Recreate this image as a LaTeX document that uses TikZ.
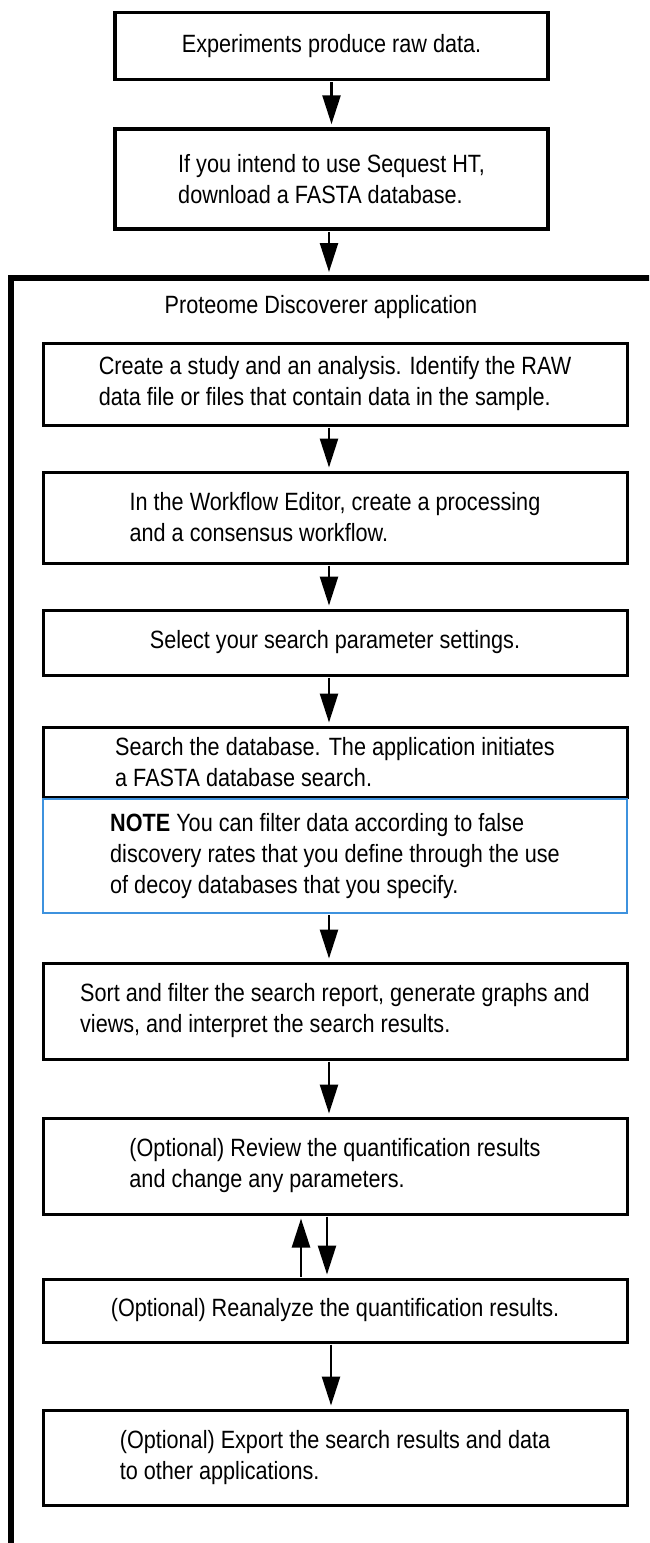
\documentclass[tikz,border=0pt]{standalone}
\usepackage{fontspec}
\setmainfont{Liberation Sans}[FakeStretch=0.865]
\usetikzlibrary{arrows.meta}
\definecolor{noteblue}{RGB}{62,146,222}
\newcommand\flowfont{\fontsize{25pt}{31pt}\selectfont}
\tikzset{every node/.style={font=\flowfont, inner sep=0pt, align=left},
  stepbox/.style={draw, line width=3pt, minimum width=584pt},
  topbox/.style={draw, line width=3.5pt, minimum width=433pt},
  notebox/.style={draw=noteblue, line width=2pt, minimum width=584pt},
  flow/.style={line width=2.5pt, -{Triangle[length=29pt,width=18pt]}, shorten >=3pt, shorten <=1pt}}

\begin{document}
\begin{tikzpicture}[x=1pt,y=-1pt]
   \useasboundingbox (0,0) rectangle (649,1543);
   \clip (0,0) rectangle (649,1543);
   % outside the application
   \node[topbox, minimum height=67pt]  (raw)   at (331.5,46)  {Experiments produce raw data.};
   \node[topbox, minimum height=100pt] (fasta) at (331.5,179) {If you intend to use Sequest HT,\\download a FASTA database.};
   % application frame
   \coordinate (ftop) at (329,275);
   \draw[line width=6.5pt] (11,1550) -- (11,278) -- (660,278);
   \node (app) at (321,307) {Proteome Discoverer application};
   % steps inside the application
   \node[stepbox, minimum height=82pt] (study)    at (335,384)    {Create a study and an analysis. Identify the RAW\\data file or files that contain data in the sample.};
   \node[stepbox, minimum height=91pt] (workflow) at (335,517.5)  {In the Workflow Editor, create a processing\\and a consensus workflow.};
   \node[stepbox, minimum height=65pt] (params)   at (335,642.5)  {Select your search parameter settings.};
   \node[stepbox, minimum height=70pt] (search)   at (335,762)    {Search the database. The application initiates\\a FASTA database search.};
   \node[notebox, minimum height=114pt] (note)    at (335,856)    {\textbf{NOTE} You can filter data according to false\\discovery rates that you define through the use\\of decoy databases that you specify.};
   \node[stepbox, minimum height=96pt] (sort)     at (335,1011)   {Sort and filter the search report, generate graphs and\\views, and interpret the search results.};
   \node[stepbox, minimum height=96pt] (review)   at (335,1166)   {(Optional) Review the quantification results\\and change any parameters.};
   \node[stepbox, minimum height=63pt] (reanal)   at (335,1310.5) {(Optional) Reanalyze the quantification results.};
   \node[stepbox, minimum height=95pt] (export)   at (335,1457.5) {(Optional) Export the search results and data\\to other applications.};
   % connectors
   \draw[flow] (raw) -- (fasta);
   \draw[flow] (fasta.south -| ftop) -- (ftop);
   \draw[flow] ([xshift=-6pt]study.south) -- ([xshift=-6pt]workflow.north);
   \draw[flow] ([xshift=-6pt]workflow.south) -- ([xshift=-6pt]params.north);
   \draw[flow] ([xshift=-6pt]params.south) -- ([xshift=-6pt]search.north);
   \draw[flow] ([xshift=-6pt]note.south) -- ([xshift=-6pt]sort.north);
   \draw[flow] ([xshift=-6pt]sort.south) -- ([xshift=-6pt]review.north);
   \draw[flow] ([xshift=-34pt]reanal.north) -- ([xshift=-34pt]review.south);
   \draw[flow] ([xshift=-8pt]review.south) -- ([xshift=-8pt]reanal.north);
   \draw[flow] ([xshift=-4pt]reanal.south) -- ([xshift=-4pt]export.north);
\end{tikzpicture}
\end{document}
